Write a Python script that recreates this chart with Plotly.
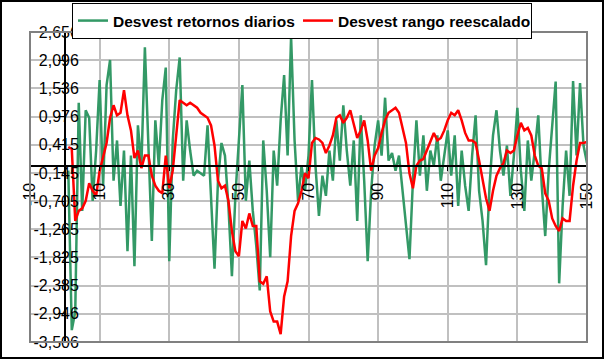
import plotly.graph_objects as go

# ---------------- data ----------------
periods = list(range(1, 151))

desvest_retornos = [
    -0.1, -3.27, -2.9, 1.25, -0.9, 1.1, 0.95, -0.7, 0.3, 1.7,
    -0.4, 1.6, 2.1, -0.3, 0.5, -0.8, 0.3, -1.7, 0.2, -2.0,
    0.8, 0.0, 2.35, 0.2, -1.5, 0.9, 0.0, 1.3, 1.95, -1.9,
    0.5, 1.5, 2.15, -0.3, 0.9, 0.3, -0.2, -0.1, -0.15, -0.2,
    0.8, -0.6, -2.05, -0.3, 0.45, 0.2, -0.8, -2.2, -0.6, 0.5,
    1.6, -0.7, 0.1, -0.9, -1.6, -2.48, 0.5, -0.5, -1.82, 0.3,
    -0.4, 0.9, 1.8, 0.2, 2.56, 0.5, -0.7, 0.0, -0.5, 0.2,
    1.7, 0.0, -1.0, -0.2, -0.6, 0.3, -0.3, 0.9, 0.1, 1.2,
    0.3, -0.4, 0.5, -1.1, 1.0, -0.3, -1.9, -0.5, 0.4, 0.9,
    0.2, 1.35, 0.1, 0.25, -0.1, 0.2, -0.5, -1.3, -1.86, -0.3,
    0.9, -0.2, 0.6, -0.5, 0.3, 0.0, 0.6, -0.3, 0.2, 0.7,
    -0.2, 0.6, -0.8, 0.3, -0.4, -0.9, 0.2, 1.0, -0.5, -1.1,
    -1.98, -0.4, 0.6, 1.1, 0.3, -0.2, 0.4, -0.6, 0.2, 1.15,
    -0.1, -0.9, 0.5, -0.3, 0.3, 1.0, -0.4, -1.4, -0.1, 0.7,
    1.67, -2.34, -0.8, 0.3, -0.6, 1.68, 0.2, 1.64, 0.4, 0.05,
]

desvest_rango = [
    0.37, 0.33, -1.1, -0.9, -0.85, -0.7, -0.35, -0.5, -0.6, -0.1,
    0.17, 0.45, 0.95, 1.2, 1.0, 1.05, 1.5, 1.0, 0.7, 0.15,
    0.3, -0.05, 0.2, 0.2, -0.2, -0.4, -0.5, -0.55, 0.2, -0.45,
    -0.1, 0.6, 1.3, 1.25, 1.2, 1.25, 1.2, 1.15, 1.05, 1.0,
    0.95, 0.8, 0.4, -0.3, -0.45, -0.4, -0.7, -1.3, -1.7, -1.8,
    -1.1, -1.25, -0.95, -1.2, -1.2, -2.3, -2.35, -2.2, -2.9, -3.1,
    -3.1, -3.35, -2.6, -2.3, -1.4, -0.9, -0.75, -0.5, -0.15, -0.25,
    0.45, 0.55, 0.52, 0.45, 0.25, 0.4, 0.6, 0.95, 1.0, 0.85,
    0.95, 1.1, 0.85, 0.55, 0.7, 0.9, 0.5, -0.1, 0.2, 0.35,
    0.65, 0.9, 1.05, 1.1, 1.15, 1.05, 0.75, 0.45, -0.15, -0.45,
    0.0, 0.1, 0.13, 0.3, 0.5, 0.65, 0.5, 0.55, 0.7, 0.9,
    1.05, 1.0, 1.1, 0.9, 0.65, 0.5, 0.5, 0.45, 0.1, -0.3,
    -0.65, -0.9, -0.5, -0.2, -0.05, 0.05, 0.3, 0.25, 0.3, 0.6,
    0.85, 0.7, 0.75, 0.6, 0.2, 0.0, -0.05, -0.55, -0.7, -1.05,
    -1.2, -1.3, -1.05, -1.1, -1.1, -0.4, 0.1, 0.45, 0.45, 0.47,
]

y_tick_values = [-3.506, -2.946, -2.385, -1.825, -1.265, -0.705, -0.145,
                 0.415, 0.976, 1.536, 2.096, 2.656]
y_tick_labels = ["-3,506", "-2,946", "-2,385", "-1,825", "-1,265", "-0,705",
                 "-0,145", "0,415", "0,976", "1,536", "2,096", "2,656"]
x_tick_values = [-10, 10, 30, 50, 70, 90, 110, 130, 150]
x_tick_labels = ["-10", "10", "30", "50", "70", "90", "110", "130", "150"]

series_names = ["Desvest retornos diarios", "Desvest rango reescalado"]

# ---------------- layout geometry (pixels) ----------------
W, H = 605, 360
L, R, T, B = 30, 587, 32, 342
PW, PH = R - L, B - T
X_MIN, X_MAX = -10, 150
Y_MIN, Y_MAX = -3.506, 2.656


def px_x(p):
    return (p - L) / PW


def px_y(p):
    return (B - p) / PH


FONT = "Arial, Liberation Sans, sans-serif"

fig = go.Figure()
fig.add_trace(go.Scatter(
    x=periods, y=desvest_retornos, mode="lines", name=series_names[0],
    legendwidth=180,
    line=dict(color="#339966", width=2.5)))
fig.add_trace(go.Scatter(
    x=periods, y=desvest_rango, mode="lines", name=series_names[1],
    legendwidth=188,
    line=dict(color="#ff0000", width=2.5)))

x_axis_pos = (0 - Y_MIN) / (Y_MAX - Y_MIN)
y_axis_pos = (0 - X_MIN) / (X_MAX - X_MIN)

fig.update_layout(
    width=W, height=H,
    margin=dict(l=L, r=W - R, t=T, b=H - B, pad=0, autoexpand=False),
    paper_bgcolor="white", plot_bgcolor="white",
    font=dict(family=FONT, size=16, color="black"),
    showlegend=True,
    legend=dict(
        orientation="h", x=px_x(72), y=px_y(3), xanchor="left", yanchor="top",
        bgcolor="white", bordercolor="black", borderwidth=1,
        font=dict(family=FONT, size=15.5, color="black", weight="bold"),
        itemwidth=30, tracegroupgap=0,
    ),
    xaxis=dict(
        range=[X_MIN, X_MAX], tickmode="array", tickvals=x_tick_values,
        ticktext=x_tick_labels, tickangle=-90,
        showgrid=True, gridcolor="#c0c0c0", gridwidth=1.5,
        zeroline=False, showline=True, linecolor="black", linewidth=1.5,
        anchor="free", position=x_axis_pos,
        ticks="outside", ticklen=5, tickcolor="black",
        ticklabelstandoff=5,
        tickfont=dict(family=FONT, size=16, color="black"),
    ),
    yaxis=dict(
        range=[Y_MIN, Y_MAX], tickmode="array", tickvals=y_tick_values,
        ticktext=y_tick_labels,
        showgrid=True, gridcolor="#c0c0c0", gridwidth=1.5,
        zeroline=False, showline=True, linecolor="black", linewidth=1.5,
        anchor="free", position=y_axis_pos,
        ticks="outside", ticklen=6, tickcolor="black",
        ticklabelstandoff=-24,
        tickfont=dict(family=FONT, size=16, color="black"),
    ),
    shapes=[
        dict(type="rect", xref="paper", yref="paper", x0=0, x1=1, y0=0, y1=1,
             line=dict(color="#808080", width=2), layer="above"),
        dict(type="rect", xref="paper", yref="paper",
             x0=px_x(1), x1=px_x(603), y0=px_y(358), y1=px_y(1),
             line=dict(color="black", width=2), layer="above"),
    ],
)

fig.write_html(
    "out.html",
    config={"displayModeBar": False},
    post_script="document.body.style.margin='0';document.body.style.overflow='hidden';",
)
